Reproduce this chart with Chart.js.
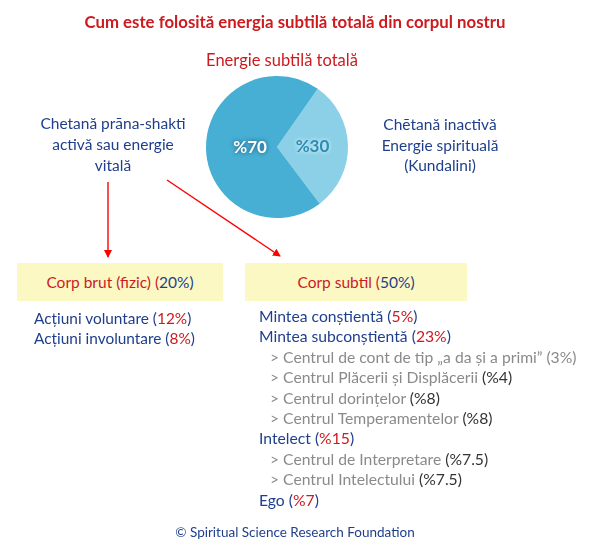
<!DOCTYPE html>
<html>
<head>
<meta charset="utf-8">
<script src="https://cdn.jsdelivr.net/npm/chart.js@4/dist/chart.umd.min.js"></script>
<style>
  body { margin: 0; background: #fff; }
  #wrap { position: relative; width: 590px; height: 550px; font-family: Lato, "Open Sans", sans-serif; }
  #pie { position: absolute; left: 0; top: 0; }
  .t { position: absolute; white-space: nowrap; }
  .c { text-align: center; }
  .red { color: #cc1a1f; }
  .blue { color: #1f3f8c; }
  .gray { color: #8a8a8a; }
  .dark { color: #333; }
  .box { position: absolute; background: #fcf8c4; height: 38px; line-height: 38px; text-align: center; font-size: 15.5px; }
  .list { position: absolute; font-size: 15.7px; line-height: 20.4px; white-space: nowrap; }
  .sub { padding-left: 11px; }
</style>
</head>
<body>
<div id="wrap">
  <canvas id="pie" width="590" height="550"></canvas>

  <div class="t c red" style="left:0;width:590px;top:11px;font-size:16.8px;font-weight:bold;">Cum este folosită energia subtilă totală din corpul nostru</div>
  <div class="t c red" style="left:182px;width:200px;top:50px;font-size:16.5px;">Energie subtilă totală</div>

  <div class="t c blue" style="left:13px;width:200px;top:113px;font-size:15.5px;line-height:20.8px;">Chetană prāna-shakti<br>activă sau energie<br>vitală</div>
  <div class="t c blue" style="left:340px;width:200px;top:114px;font-size:15.5px;line-height:20.5px;">Chētană inactivă<br>Energie spirituală<br>(Kundalini)</div>

  <svg style="position:absolute;left:0;top:0" width="590" height="550">
    <defs>
      <marker id="ah" markerWidth="8" markerHeight="8" refX="7" refY="4" orient="auto" markerUnits="userSpaceOnUse">
        <path d="M0,0 L8,4 L0,8 z" fill="#f00"/>
      </marker>
    </defs>
    <line x1="108" y1="182" x2="108" y2="257" stroke="#f00" stroke-width="1.4" marker-end="url(#ah)"/>
    <line x1="167" y1="180" x2="280" y2="256" stroke="#f00" stroke-width="1.4" marker-end="url(#ah)"/>
  </svg>

  <div class="box" style="left:17px;top:263px;width:206px;"><span class="red">Corp brut (fizic) (</span><span class="blue">20%)</span></div>
  <div class="box" style="left:245px;top:263px;width:222px;"><span class="red">Corp subtil (</span><span class="blue">50%)</span></div>

  <div class="list blue" style="left:34px;top:308px;font-size:15.4px;">
    <div>Acțiuni voluntare (<span class="red">12%</span>)</div>
    <div>Acțiuni involuntare (<span class="red">8%</span>)</div>
  </div>

  <div class="list" style="left:259px;top:306px;">
    <div class="blue">Mintea conștientă (<span class="red">5%</span>)</div>
    <div class="blue">Mintea subconștientă (<span class="red">23%</span>)</div>
    <div class="gray sub">&gt; Centrul de cont de tip „a da și a primi” (3%)</div>
    <div class="gray sub">&gt; Centrul Plăcerii și Displăcerii <span class="dark">(%4)</span></div>
    <div class="gray sub">&gt; Centrul dorințelor <span class="dark">(%8)</span></div>
    <div class="gray sub">&gt; Centrul Temperamentelor <span class="dark">(%8)</span></div>
    <div class="blue">Intelect (<span class="red">%15</span>)</div>
    <div class="gray sub">&gt; Centrul de Interpretare <span class="dark">(%7.5)</span></div>
    <div class="gray sub">&gt; Centrul Intelectului <span class="dark">(%7.5)</span></div>
    <div class="blue">Ego (<span class="red">%7</span>)</div>
  </div>

  <div class="t c blue" style="left:0;width:590px;top:524px;font-size:13.5px;">© Spiritual Science Research Foundation</div>
</div>

<script>
// pie data
const sliceLabels = ["%30", "%70"];
const sliceValues = [30, 70];
const sliceColors = ["#8bd0e6", "#47afd3"];
const labelColors = ["#2a8db5", "#ffffff"];
const labelRadius = [0.5, 0.38];

const sliceText = {
  id: 'sliceText',
  afterDatasetsDraw(chart) {
    const ctx = chart.ctx;
    const meta = chart.getDatasetMeta(0);
    ctx.save();
    ctx.font = 'bold 17px Lato, sans-serif';
    ctx.textAlign = 'center';
    ctx.textBaseline = 'middle';
    meta.data.forEach(function (arc, i) {
      const mid = (arc.startAngle + arc.endAngle) / 2;
      const r = arc.outerRadius * labelRadius[i];
      const x = arc.x + Math.cos(mid) * r;
      const y = arc.y + Math.sin(mid) * r;
      ctx.shadowColor = i === 0 ? 'rgba(255,255,255,0.9)' : 'rgba(0,40,80,0.7)';
      ctx.shadowBlur = 4;
      ctx.fillStyle = labelColors[i];
      ctx.fillText(sliceLabels[i], x, y);
    });
    ctx.restore();
  }
};

new Chart(document.getElementById('pie'), {
  type: 'pie',
  data: {
    labels: sliceLabels,
    datasets: [{
      data: sliceValues,
      backgroundColor: sliceColors,
      borderWidth: 0
    }]
  },
  options: {
    responsive: false,
    animation: false,
    rotation: 35,
    layout: { padding: { left: 206, right: 242, top: 76, bottom: 332 } },
    plugins: {
      legend: { display: false },
      tooltip: { enabled: false }
    }
  },
  plugins: [sliceText]
});
</script>
</body>
</html>
